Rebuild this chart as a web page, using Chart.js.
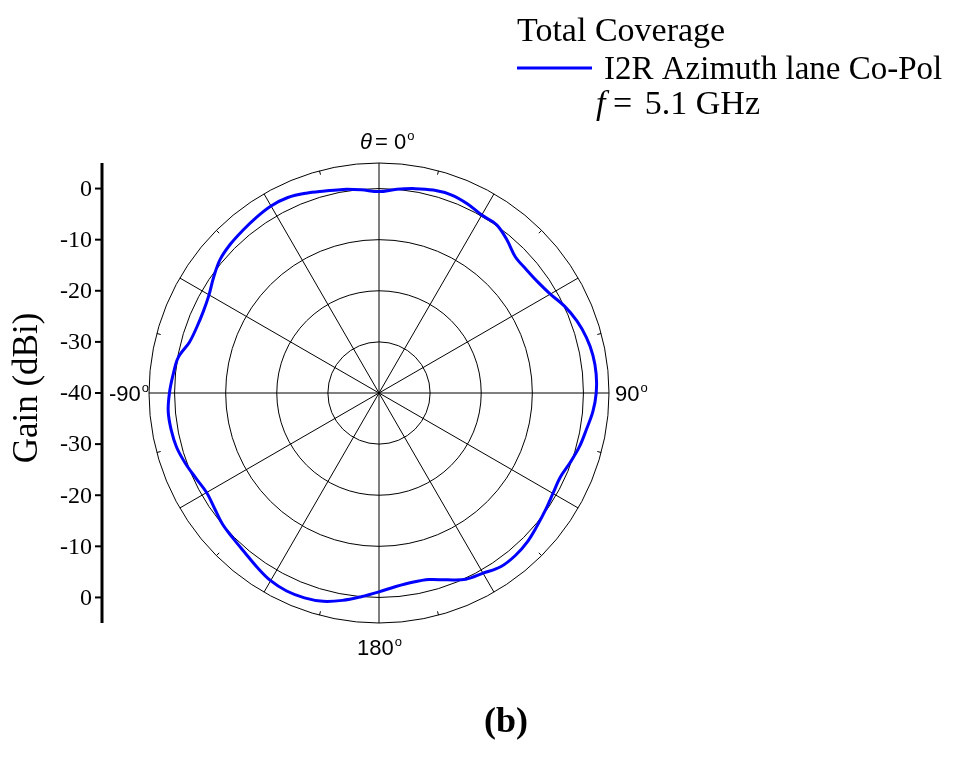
<!DOCTYPE html>
<html>
<head>
<meta charset="utf-8">
<script src="https://cdn.jsdelivr.net/npm/chart.js@4.4.1/dist/chart.umd.min.js"></script>
<style>
  html, body { margin: 0; padding: 0; background: #fff; }
  canvas { display: block; }
</style>
</head>
<body>
<canvas id="polar" width="965" height="762"></canvas>
<script>
// ================= DATA =================
// angle in degrees, clockwise from the top (theta = 0)
const angles = [
    0, 5, 10, 15, 20, 25, 30, 35, 40, 45, 50, 55,
    60, 65, 70, 75, 80, 85, 90, 95, 100, 105, 110, 115,
    120, 125, 130, 135, 140, 145, 150, 155, 160, 165, 170, 175,
    180, 185, 190, 195, 200, 205, 210, 215, 220, 225, 230, 235,
    240, 245, 250, 255, 260, 265, 270, 275, 280, 285, 290, 295,
    300, 305, 310, 315, 320, 325, 330, 335, 340, 345, 350, 355
];
// gain in dBi
const gainCoPol = [
    -0.6, 0.0, 0.6, 1.1, 1.25, 0.85, 0.2, 0.15, -1.0, -2.3, -2.4, -2.1,
    -1.3, 0.1, 1.2, 2.0, 2.5, 2.65, 2.5, 2.0, 1.2, 0.6, -0.2, -0.9,
    -0.7, -0.2, 0.4, 1.1, 1.5, 1.5, 0.7, 0.2, -1.1, -2.2, -2.4, -2.0,
    -1.1, 0.0, 1.2, 2.2, 2.65, 2.75, 2.4, 1.6, 0.8, 0.3, -0.05, -0.7,
    -1.05, -0.5, 0.3, 1.0, 1.3, 1.4, 1.0, 0.45, -0.1, -1.6, -2.1, -2.1,
    -1.6, -0.5, 0.6, 1.15, 1.5, 1.9, 2.25, 2.2, 1.6, 0.9, 0.45, -0.1
];
const ringValues = [-40, -30, -20, -10, 0, 5];
const axisUpperTicks = [0, -10, -20, -30, -40];
const axisLowerTicks = [-30, -20, -10, 0];
const legendTitle = "Total Coverage";
const seriesName = "I2R Azimuth lane Co-Pol";
const freqValue = "5.1 GHz";

const BLUE = "#0000ff";
const SERIF = '"Liberation Serif", "Times New Roman", serif';
const SANS = '"Liberation Sans", Arial, sans-serif';

// ================= HELPERS =================
function degText(ctx, text, x, y, align) {
    ctx.font = "22px " + SANS;
    const w = ctx.measureText(text).width;
    ctx.font = "13px " + SANS;
    const wo = ctx.measureText("o").width;
    let left = x;
    if (align === "center") left = x - (w + wo) / 2;
    if (align === "right") left = x - (w + wo);
    ctx.textAlign = "left";
    ctx.textBaseline = "alphabetic";
    ctx.font = "22px " + SANS;
    ctx.fillText(text, left, y);
    ctx.font = "13px " + SANS;
    ctx.fillText("o", left + w + 1, y - 9);
}

// ================= DECORATION PLUGIN =================
const polarDecor = {
    id: "polarDecor",
    afterDraw(chart) {
        const ctx = chart.ctx;
        const r = chart.scales.r;
        const cx = r.xCenter, cy = r.yCenter;
        const outer = r.getDistanceFromCenterForValue(r.max);

        ctx.save();
        ctx.fillStyle = "#000";
        ctx.strokeStyle = "#000";

        // minor ticks on the outer ring
        ctx.lineWidth = 1;
        angles.forEach((a, i) => {
            if (a % 30 !== 15) return;
            const p1 = r.getPointPosition(i, outer);
            const p2 = r.getPointPosition(i, outer - 4);
            ctx.beginPath();
            ctx.moveTo(p1.x, p1.y);
            ctx.lineTo(p2.x, p2.y);
            ctx.stroke();
        });

        // left gain axis
        const axisX = 102;
        ctx.lineWidth = 3;
        ctx.beginPath();
        ctx.moveTo(axisX, cy - outer);
        ctx.lineTo(axisX, cy + outer);
        ctx.stroke();

        ctx.font = "24px " + SERIF;
        ctx.textAlign = "right";
        ctx.textBaseline = "middle";
        ctx.lineWidth = 2;
        const tick = (v, y) => {
            ctx.beginPath();
            ctx.moveTo(axisX - 7, y);
            ctx.lineTo(axisX, y);
            ctx.stroke();
            ctx.fillText(String(v), axisX - 10, y + 1);
        };
        axisUpperTicks.forEach(v => tick(v, cy - r.getDistanceFromCenterForValue(v)));
        axisLowerTicks.forEach(v => tick(v, cy + r.getDistanceFromCenterForValue(v)));

        // axis title
        ctx.save();
        ctx.translate(28, cy - 5);
        ctx.rotate(-Math.PI / 2);
        ctx.font = "35px " + SERIF;
        ctx.textAlign = "center";
        ctx.textBaseline = "middle";
        ctx.fillText("Gain (dBi)", 0, 0);
        ctx.restore();

        // angle labels
        const top = r.getPointPosition(0, outer);
        ctx.font = "italic 22px " + SANS;
        ctx.textAlign = "left";
        ctx.textBaseline = "alphabetic";
        const thW = ctx.measureText("\u03b8").width;
        ctx.fillText("\u03b8", cx - 19, top.y - 14);
        degText(ctx, "= 0", cx - 19 + thW + 3, top.y - 14, "left");

        const right = r.getPointPosition(18, outer);
        degText(ctx, "90", right.x + 6, cy + 8, "left");
        const left = r.getPointPosition(54, outer);
        degText(ctx, "-90", left.x - 1, cy + 8, "right");
        const bottom = r.getPointPosition(36, outer);
        degText(ctx, "180", cx, bottom.y + 32, "center");

        // legend
        ctx.textAlign = "left";
        ctx.textBaseline = "alphabetic";
        ctx.font = "34px " + SERIF;
        ctx.fillText(legendTitle, 517, 41);
        ctx.strokeStyle = BLUE;
        ctx.lineWidth = 3;
        ctx.beginPath();
        ctx.moveTo(517, 68);
        ctx.lineTo(592, 68);
        ctx.stroke();
        ctx.font = "33px " + SERIF;
        ctx.fillText(seriesName, 604, 79);
        ctx.font = "italic 34px " + SERIF;
        ctx.fillText("f", 596, 114);
        ctx.font = "34px " + SERIF;
        ctx.fillText("=", 613, 114);
        ctx.textAlign = "right";
        ctx.fillText(freqValue, 760, 114);

        // panel tag
        ctx.font = "bold 36px " + SERIF;
        ctx.textAlign = "center";
        ctx.textBaseline = "middle";
        ctx.fillText("(b)", 506, 723);

        ctx.restore();
    }
};

// ================= CHART =================
new Chart(document.getElementById("polar"), {
    type: "radar",
    data: {
        labels: angles,
        datasets: [{
            label: seriesName,
            data: gainCoPol,
            borderColor: BLUE,
            borderWidth: 3,
            pointRadius: 0,
            pointHoverRadius: 0,
            fill: false,
            tension: 0.35
        }]
    },
    options: {
        responsive: false,
        animation: false,
        layout: { padding: { left: 149, top: 163, right: 356, bottom: 139 } },
        plugins: {
            legend: { display: false },
            tooltip: { enabled: false }
        },
        scales: {
            r: {
                min: -40,
                max: 5,
                startAngle: 0,
                ticks: { display: false, stepSize: 10 },
                afterBuildTicks: s => { s.ticks = ringValues.map(v => ({ value: v })); },
                grid: { circular: true, color: "#000", lineWidth: 1 },
                angleLines: {
                    display: true,
                    color: "#000",
                    lineWidth: ctx => (angles[ctx.index] % 30 === 0 ? 1 : 0)
                },
                pointLabels: { display: false }
            }
        }
    },
    plugins: [polarDecor]
});
</script>
</body>
</html>
